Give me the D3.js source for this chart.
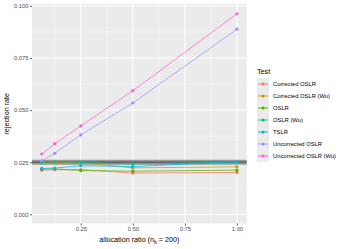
<!DOCTYPE html>
<html><head><meta charset="utf-8">
<script src="https://cdn.jsdelivr.net/npm/d3@7"></script>
<style>body{margin:0;background:#fff}svg{display:block;font-family:"Liberation Sans",Arial,sans-serif}</style>
</head><body><svg id="c" width="349" height="249"></svg>
<script>
const ratios = [0.0625, 0.125, 0.25, 0.5, 1.0];
const tests = ["Corrected OSLR","Corrected OSLR (Wu)","OSLR","OSLR (Wu)","TSLR","Uncorrected OSLR","Uncorrected OSLR (Wu)"];
const colors = ["#F8766D","#C49A00","#53B400","#00C094","#00B6EB","#A58AFF","#FB61D7"];
const correctedOSLR   = [0.0212, 0.0214, 0.0215, 0.0198, 0.0201];
const correctedOSLRWu = [0.0247, 0.0248, 0.0248, 0.0223, 0.0228];
const oslr            = [0.0216, 0.0218, 0.0210, 0.0207, 0.0212];
const oslrWu          = [0.0250, 0.0253, 0.0249, 0.0241, 0.0251];
const tslr            = [0.0220, 0.0222, 0.0233, 0.0229, 0.0252];
const uncorrectedOSLR   = [0.0257, 0.0293, 0.0381, 0.0534, 0.0888];
const uncorrectedOSLRWu = [0.0289, 0.0339, 0.0424, 0.0593, 0.0962];
const seriesValues = [correctedOSLR, correctedOSLRWu, oslr, oslrWu, tslr, uncorrectedOSLR, uncorrectedOSLRWu];
const xTicks = [0.25, 0.5, 0.75, 1.0];
const xTickLabels = ["0.25","0.50","0.75","1.00"];
const yTicks = [0, 0.025, 0.05, 0.075, 0.1];
const yTickLabels = ["0.000","0.025","0.050","0.075","0.100"];
const refLine = 0.025;

const svg = d3.select("#c");
const L = 32, R = 246.7, T = 4, B = 223.5;
const x = d3.scaleLinear().domain([0.015625, 1.046875]).range([L, R]);
const y = d3.scaleLinear().domain([-0.0044, 0.1009]).range([B, T]);

svg.append("rect").attr("x", L).attr("y", T).attr("width", R - L).attr("height", B - T).attr("fill", "#EBEBEB");
const g = svg.append("g");
// minor grid
const xMinor = [0.125, 0.375, 0.625, 0.875];
const yMinor = [0.0125, 0.0375, 0.0625, 0.0875];
g.selectAll(".xm").data(xMinor).enter().append("line")
  .attr("x1", d => x(d)).attr("x2", d => x(d)).attr("y1", T).attr("y2", B)
  .attr("stroke", "#fff").attr("stroke-width", 0.5);
g.selectAll(".ym").data(yMinor).enter().append("line")
  .attr("y1", d => y(d)).attr("y2", d => y(d)).attr("x1", L).attr("x2", R)
  .attr("stroke", "#fff").attr("stroke-width", 0.5);
g.selectAll(".xM").data(xTicks).enter().append("line")
  .attr("x1", d => x(d)).attr("x2", d => x(d)).attr("y1", T).attr("y2", B)
  .attr("stroke", "#fff").attr("stroke-width", 1);
g.selectAll(".yM").data(yTicks).enter().append("line")
  .attr("y1", d => y(d)).attr("y2", d => y(d)).attr("x1", L).attr("x2", R)
  .attr("stroke", "#fff").attr("stroke-width", 1);

// reference band
g.append("line").attr("x1", L).attr("x2", R).attr("y1", y(refLine)).attr("y2", y(refLine))
  .attr("stroke", "#333").attr("stroke-opacity", 0.45).attr("stroke-width", 5);
g.append("line").attr("x1", L).attr("x2", R).attr("y1", y(refLine)).attr("y2", y(refLine))
  .attr("stroke", "#333").attr("stroke-opacity", 0.7).attr("stroke-width", 1.2);

const line = d3.line().x((d, i) => x(ratios[i])).y(d => y(d));
seriesValues.forEach((vals, k) => {
  g.append("path").attr("d", line(vals)).attr("fill", "none")
    .attr("stroke", colors[k]).attr("stroke-width", 0.9).attr("stroke-opacity", 0.85);
  g.selectAll(null).data(vals).enter().append("circle")
    .attr("cx", (d, i) => x(ratios[i])).attr("cy", d => y(d)).attr("r", 1.6)
    .attr("fill", colors[k]);
});

// axes
const xAxis = svg.append("g").attr("transform", `translate(0,${B})`)
  .call(d3.axisBottom(x).tickValues(xTicks).tickFormat((d, i) => xTickLabels[i]).tickSize(2).tickPadding(1.5));
const yAxis = svg.append("g").attr("transform", `translate(${L},0)`)
  .call(d3.axisLeft(y).tickValues(yTicks).tickFormat((d, i) => yTickLabels[i]).tickSize(2).tickPadding(1.5));
[xAxis, yAxis].forEach(a => {
  a.select(".domain").remove();
  a.selectAll(".tick line").attr("stroke", "#333").attr("stroke-width", 0.8);
  a.selectAll(".tick text").attr("fill", "#4D4D4D").style("font-size", "5.8px").style("font-family", "Liberation Sans, Arial, sans-serif");
});

// titles
const xt = svg.append("text").attr("x", (L + R) / 2).attr("y", 242).attr("text-anchor", "middle")
  .style("font-size", "7.2px").attr("fill", "#000");
xt.append("tspan").text("allocation ratio (n");
xt.append("tspan").text("b").attr("dy", 1.5).style("font-size", "5px");
xt.append("tspan").text(" = 200)").attr("dy", -1.5);
svg.append("text").attr("transform", `translate(9,${(T + B) / 2}) rotate(-90)`).attr("text-anchor", "middle")
  .style("font-size", "7.2px").attr("fill", "#000").text("rejection rate");

// legend
const lg = svg.append("g");
lg.append("text").attr("x", 257).attr("y", 73.5).style("font-size", "7.2px").text("Test");
const ky0 = 78, kh = 12;
tests.forEach((t, k) => {
  const yy = ky0 + k * kh;
  lg.append("rect").attr("x", 257).attr("y", yy).attr("width", 12).attr("height", kh).attr("fill", "#EBEBEB");
  lg.append("line").attr("x1", 258).attr("x2", 268).attr("y1", yy + kh / 2).attr("y2", yy + kh / 2)
    .attr("stroke", colors[k]).attr("stroke-width", 0.9);
  lg.append("circle").attr("cx", 263).attr("cy", yy + kh / 2).attr("r", 1.6).attr("fill", colors[k]);
  lg.append("text").attr("x", 273).attr("y", yy + kh / 2 + 2).style("font-size", "5.8px").attr("fill", "#000").text(t);
});
</script></body></html>
